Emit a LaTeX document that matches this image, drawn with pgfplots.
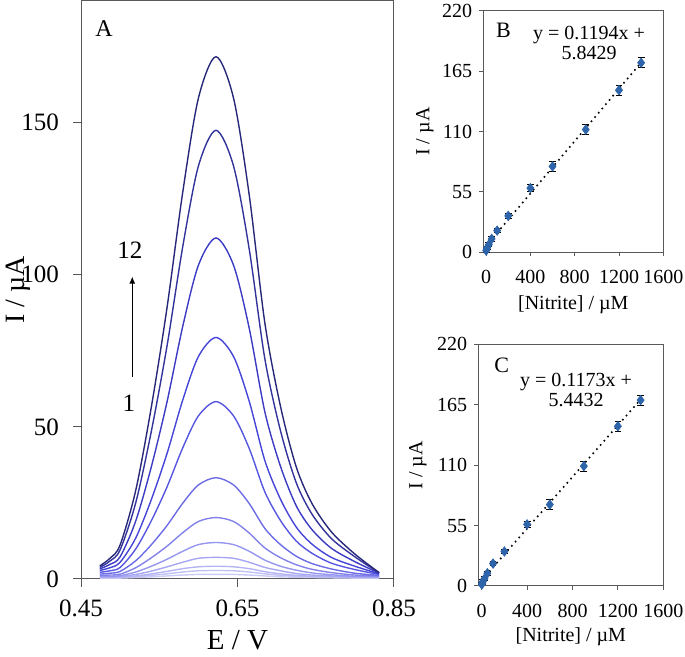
\documentclass[border=0pt]{standalone}
\usepackage{fontspec}
\setmainfont{Liberation Serif}
\usepackage{pgfplots}
\usepackage{pgfplotstable}
\pgfplotsset{compat=1.18}
\usetikzlibrary{arrows.meta}

\definecolor{c1}{HTML}{CBCBF8}
\definecolor{c2}{HTML}{C0C0F6}
\definecolor{c3}{HTML}{B4B4F4}
\definecolor{c4}{HTML}{A6A6F2}
\definecolor{c5}{HTML}{9696EE}
\definecolor{c6}{HTML}{8282EA}
\definecolor{c7}{HTML}{6C6CE6}
\definecolor{c8}{HTML}{5656E0}
\definecolor{c9}{HTML}{4545D8}
\definecolor{c10}{HTML}{3B3BC4}
\definecolor{c11}{HTML}{33339C}
\definecolor{c12}{HTML}{28287A}
\definecolor{markblue}{RGB}{46,100,170}
\definecolor{axgray}{HTML}{595959}

% DPV curves, I (uA) vs E (V), curve 1 (lowest) to 12 (highest)
\pgfplotstableread{
x      c1  c2  c3  c4  c5   c6   c7   c8   c9   c10   c11   c12
0.474  0.3 0.4 0.5 0.7 0.9  1.2  1.6  2.2  2.8  3.3   3.8   4.3
0.487  0.3 0.4 0.5 0.7 0.9  1.3  1.9  2.7  3.7  4.8   5.9   6.8
0.50   0.3 0.5 0.6 0.8 1.1  1.6  2.5  3.8  5.5  7.3   9.6   11.2
0.52   0.5 0.8 1.0 1.5 2.3  3.7  6.0  9.9  13.5 19.1  25.1  29.2
0.54   0.7 1.2 1.7 2.6 4.2  7.0  11.3 19.2 26.2 37.0  48.7  56.7
0.56   1.0 1.7 2.5 4.0 6.5  10.8 17.6 30.3 41.3 58.3  76.7  89.3
0.58   1.3 2.3 3.4 5.5 9.1  15.2 24.9 43.1 58.8 83.0  109.2 127.1
0.60   1.5 2.7 4.0 6.8 11.3 18.9 30.9 53.6 73.1 103.1 135.7 158.0
0.6225 1.5 2.8 4.2 7.1 12.0 20.2 33.3 58.3 79.4 112.1 147.5 171.7
0.645  1.5 2.7 4.0 6.8 11.3 18.9 30.9 53.6 73.1 103.1 135.7 158.0
0.665  1.3 2.3 3.4 5.5 9.1  15.1 24.8 42.9 58.4 82.4  108.4 126.2
0.685  1.0 1.7 2.4 3.8 6.2  10.2 16.6 28.6 38.9 54.9  72.3  84.1
0.705  0.7 1.2 1.7 2.7 4.2  7.0  11.3 19.2 26.2 37.0  48.7  56.7
0.725  0.6 0.9 1.2 1.8 2.9  4.7  7.5  12.5 17.1 24.1  31.7  36.9
0.745  0.5 0.7 0.9 1.3 2.0  3.2  5.1  8.5  11.5 16.3  21.4  24.9
0.77   0.4 0.5 0.7 1.0 1.4  2.1  3.3  5.2  7.1  10.1  13.3  15.5
0.80   0.3 0.4 0.5 0.7 0.9  1.3  1.9  3.1  4.2  5.7   7.3   8.2
0.831  0.3 0.4 0.5 0.6 0.8  1.0  1.2  1.5  1.7  1.9   2.0   2.1
}\dpv

% calibration, [nitrite] (uM), I (uA), error
\pgfplotstableread{
x    y     e
1    1.5   1.5
5    2.8   1.5
10   4.2   1.5
25   7.1   1.5
50   12.2  2
100  19.8  2
200  33.2  2
400  58.5  3
600  78.3  4.5
900  111.9 4.5
1200 147.8 4.5
1400 172.8 4.5
}\calB

\pgfplotstableread{
x    y     e
1    1.4   1.5
5    2.7   1.5
10   4.0   1.5
25   6.7   1.5
50   11.6  2
100  20.4  2
200  31.4  2
400  56.1  3
600  74.1  4.5
900  109.1 4.5
1200 145.4 4.5
1400 169.2 4.5
}\calC

\pgfplotsset{
  panel/.style={
    scale only axis, anchor=south west,
    tick align=outside,
    xtick pos=left, ytick pos=left,
    axis line style={axgray, line width=0.5pt},
    tick style={axgray, line width=0.5pt},
    /pgf/number format/assume math mode=true,
    /pgf/number format/1000 sep={},
  },
  calib/.style={
    panel,
    width=90pt, height=120.65pt,
    xmin=-25, xmax=1600, ymin=0, ymax=220,
    xtick={0,400,800,1200,1600}, ytick={0,55,110,165,220},
    major tick length=2pt,
    ticklabel style={font=\fontsize{10}{12}\selectfont},
    xticklabel style={yshift=-3.5pt},
    label style={font=\fontsize{10}{12}\selectfont},
    xlabel={[Nitrite] / µM}, ylabel={I / µA},
  },
}

\begin{document}
\begin{tikzpicture}

% panel A
\begin{axis}[
  panel,
  at={(40.5pt,39pt)},
  width=156.5pt, height=289pt,
  xmin=0.45, xmax=0.85, ymin=0, ymax=190,
  xtick={0.45,0.65,0.85}, ytick={0,50,100,150},
  xticklabels={0.45,0.65,0.85},
  major tick length=4pt,
  ticklabel style={font=\fontsize{12.5}{14}\selectfont},
  xticklabel style={yshift=-3pt},
  yticklabel style={xshift=-3.5pt},
  xlabel={E / V}, ylabel={I / µA},
  xlabel style={font=\fontsize{14.5}{17}\selectfont,
    at={(axis description cs:0.5,-0.106)}, anchor=center},
  ylabel style={font=\fontsize{14}{16}\selectfont,
    at={(axis description cs:-0.202,0.5)}, anchor=center},
  every axis plot/.append style={smooth, line width=0.7pt},
]
\addplot[c1]  table[x=x, y=c1]  {\dpv};
\addplot[c2]  table[x=x, y=c2]  {\dpv};
\addplot[c3]  table[x=x, y=c3]  {\dpv};
\addplot[c4]  table[x=x, y=c4]  {\dpv};
\addplot[c5]  table[x=x, y=c5]  {\dpv};
\addplot[c6]  table[x=x, y=c6]  {\dpv};
\addplot[c7]  table[x=x, y=c7]  {\dpv};
\addplot[c8]  table[x=x, y=c8]  {\dpv};
\addplot[c9]  table[x=x, y=c9]  {\dpv};
\addplot[c10] table[x=x, y=c10] {\dpv};
\addplot[c11] table[x=x, y=c11] {\dpv};
\addplot[c12] table[x=x, y=c12] {\dpv};
\node[font=\fontsize{12}{14}\selectfont] at (axis cs:0.4794,180.8) {A};
\node[font=\fontsize{12.5}{14}\selectfont] at (axis cs:0.5126,108) {12};
\node[font=\fontsize{12.5}{14}\selectfont] at (axis cs:0.5113,57.8) {1};
\draw[-{Latex[length=3.5pt,width=3pt]}, line width=0.5pt]
  (axis cs:0.5155,66.4) -- (axis cs:0.5155,99.4);
\end{axis}

% panel B
\begin{axis}[
  calib,
  at={(241.65pt,202.35pt)},
  xlabel style={at={(axis description cs:0.5,-0.218)}, anchor=center},
  ylabel style={at={(axis description cs:-0.324,0.5)}, anchor=center},
]
\addplot[black, dotted, line width=0.8pt] coordinates {(0,5.84) (1400,173.0)};
\addplot[only marks, mark=diamond*, mark size=2.3pt, color=markblue,
  error bars/.cd, y dir=both, y explicit,
  error bar style={black, line width=0.5pt},
  error mark options={black, rotate=90, mark size=1.7pt, line width=0.5pt}]
  table[x=x, y=y, y error=e] {\calB};
\node[font=\fontsize{11}{13}\selectfont] at (axis cs:156,202.7) {B};
\node[font=\fontsize{10}{10.25}\selectfont, align=center] at (axis cs:930,190.6)
  {y = 0.1194x +\\5.8429};
\end{axis}

% panel C
\begin{axis}[
  calib,
  at={(239.15pt,35.5pt)},
  width=92.5pt, height=120.85pt,
  xmin=-30,
  xlabel style={at={(axis description cs:0.5,-0.211)}, anchor=center},
  ylabel style={at={(axis description cs:-0.326,0.5)}, anchor=center},
]
\addplot[black, dotted, line width=0.8pt] coordinates {(0,5.44) (1400,169.7)};
\addplot[only marks, mark=diamond*, mark size=2.3pt, color=markblue,
  error bars/.cd, y dir=both, y explicit,
  error bar style={black, line width=0.5pt},
  error mark options={black, rotate=90, mark size=1.7pt, line width=0.5pt}]
  table[x=x, y=y, y error=e] {\calC};
\node[font=\fontsize{11}{13}\selectfont] at (axis cs:176,201) {C};
\node[font=\fontsize{10}{8.2}\selectfont, align=center] at (axis cs:831,178.4)
  {y = 0.1173x +\\5.4432};
\end{axis}

\pgfresetboundingbox
\path (0,0) rectangle (342.5pt,328.5pt);
\end{tikzpicture}
\end{document}
